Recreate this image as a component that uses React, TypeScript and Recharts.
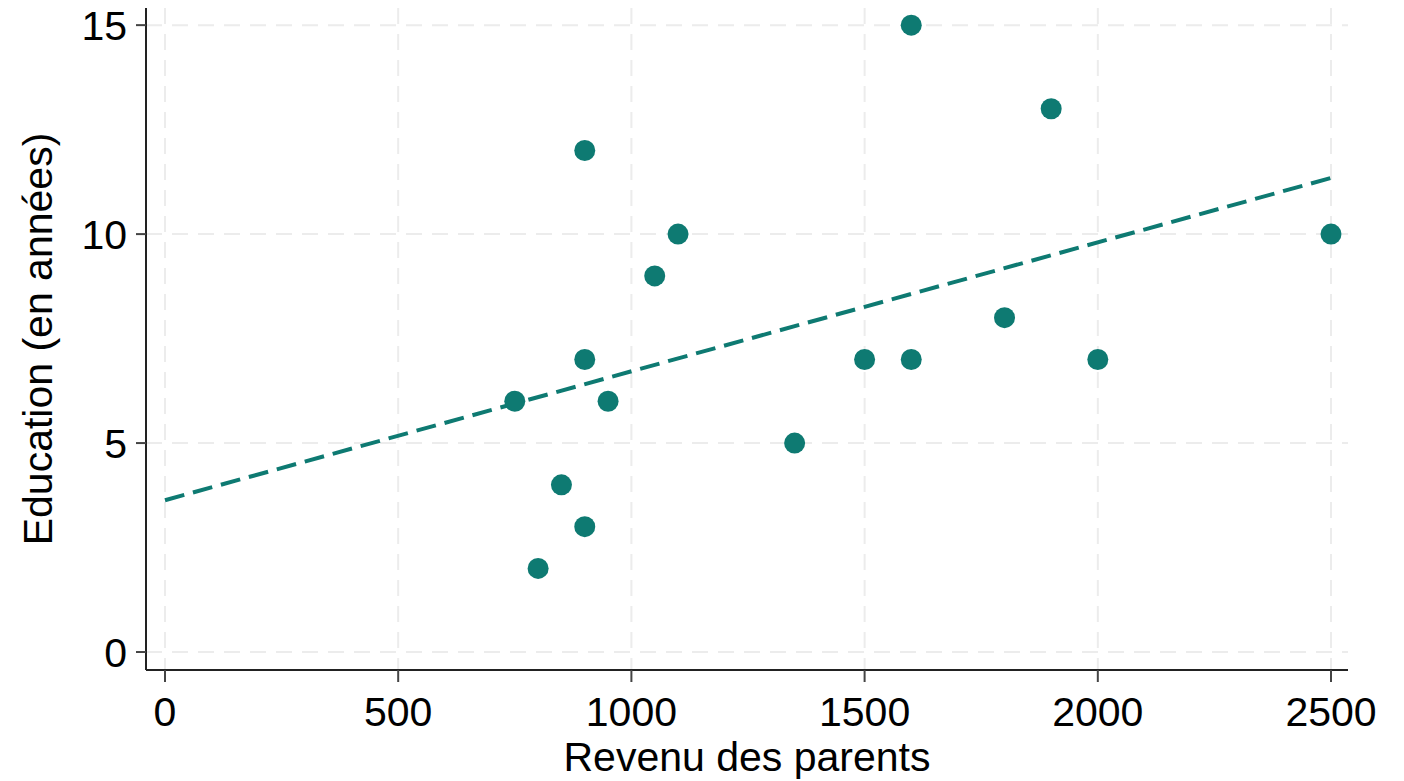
import { ScatterChart, Scatter, XAxis, YAxis, CartesianGrid } from "recharts";

// Revenu des parents vs années d'éducation, one entry per observation
const revenu = [1600, 1900, 900, 1100, 2500, 1050, 1800, 900, 1500, 1600, 2000, 750, 950, 1350, 850, 900, 800];
const education = [15, 13, 12, 10, 10, 9, 8, 7, 7, 7, 7, 6, 6, 5, 4, 3, 2];

const xTicks = [0, 500, 1000, 1500, 2000, 2500];
const yTicks = [0, 5, 10, 15];
const fitRange = [0, 2500];

const TEAL = "#0e7a72";
const FONT = "'Liberation Sans', Arial, sans-serif";

const points = revenu.map((x, i) => ({ x, y: education[i] }));

// least-squares fit of education on revenu
const n = revenu.length;
const mx = revenu.reduce((s, v) => s + v, 0) / n;
const my = education.reduce((s, v) => s + v, 0) / n;
let sxy = 0;
let sxx = 0;
revenu.forEach((x, i) => {
  sxy += (x - mx) * (education[i] - my);
  sxx += (x - mx) * (x - mx);
});
const slope = sxy / sxx;
const intercept = my - slope * mx;
const fit = fitRange.map((x) => ({ x, y: intercept + slope * x }));

const tickStyle = { fill: "#000", fontSize: 41, fontFamily: FONT };

export default function App() {
  return (
    <div style={{ position: "absolute", left: 0, top: 0 }}>
      <ScatterChart width={1404} height={781} margin={{ top: 8, right: 56, bottom: 0, left: 0 }}>
        {/* grid only at the tick values, no frame at the plot edges */}
        <CartesianGrid stroke="#ececec" strokeWidth={2} strokeDasharray="16 10" syncWithTicks />
        <XAxis
          type="number"
          dataKey="x"
          domain={[-40.7, 2536.4]}
          ticks={xTicks}
          interval={0}
          height={111}
          tick={tickStyle}
          tickSize={12}
          tickMargin={15}
          axisLine={{ stroke: "#222", strokeWidth: 2 }}
          tickLine={{ stroke: "#444", strokeWidth: 2 }}
          label={() => (
            <text x={747} y={771} textAnchor="middle" fill="#000" fontSize={41} fontFamily={FONT}>
              Revenu des parents
            </text>
          )}
        />
        <YAxis
          type="number"
          dataKey="y"
          domain={[-0.43, 15.41]}
          ticks={yTicks}
          interval={0}
          width={146}
          tick={tickStyle}
          tickSize={10}
          tickMargin={9}
          axisLine={{ stroke: "#222", strokeWidth: 2 }}
          tickLine={{ stroke: "#444", strokeWidth: 2 }}
          label={() => (
            <text
              x={52}
              y={339}
              transform="rotate(-90 52 339)"
              textAnchor="middle"
              fill="#000"
              fontSize={41}
              fontFamily={FONT}
            >
              Education (en années)
            </text>
          )}
        />
        <Scatter
          data={fit}
          line={{ stroke: TEAL, strokeWidth: 4, strokeDasharray: "20 9" }}
          shape={() => <g />}
          isAnimationActive={false}
        />
        <Scatter
          data={points}
          fill={TEAL}
          shape={(p: any) => <circle cx={p.cx} cy={p.cy} r={10.5} fill={TEAL} />}
          isAnimationActive={false}
        />
      </ScatterChart>
    </div>
  );
}
